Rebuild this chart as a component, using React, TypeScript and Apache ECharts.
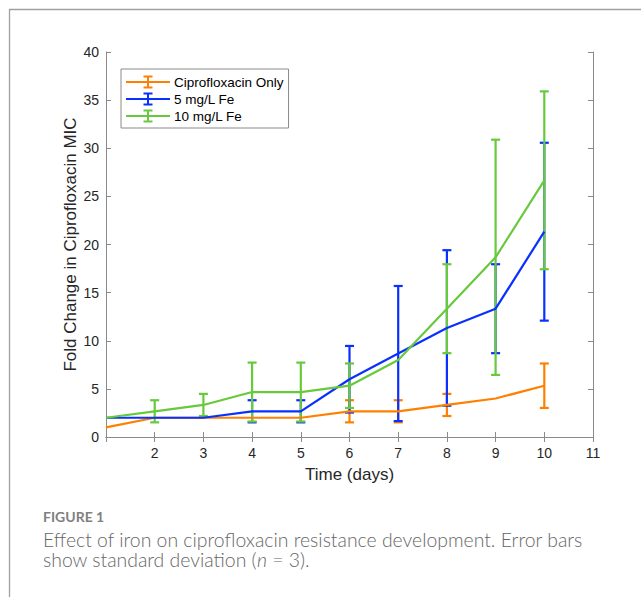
import React, { useEffect, useRef } from "react";
import * as echarts from "echarts";

const days = [1, 2, 3, 4, 5, 6, 7, 8, 9, 10];
const xTicks = [1, 2, 3, 4, 5, 6, 7, 8, 9, 10, 11];
const seriesNames = ["Ciprofloxacin Only", "5 mg/L Fe", "10 mg/L Fe"];
const ciproMean = [1, 2, 2, 2, 2, 2.67, 2.67, 3.33, 4, 5.33];
const ciproSD = [0, 0, 0, 0, 0, 1.15, 1.15, 1.15, 0, 2.31];
const fe5Mean = [2, 2, 2, 2.67, 2.67, 6, 8.67, 11.33, 13.33, 21.33];
const fe5SD = [0, 0, 0, 1.15, 1.15, 3.46, 7.02, 8.08, 4.62, 9.24];
const fe10Mean = [2, 2.67, 3.33, 4.67, 4.67, 5.33, 8, 13.33, 18.67, 26.67];
const fe10SD = [0, 1.15, 1.15, 3.06, 3.06, 2.31, 0, 4.62, 12.22, 9.24];
const colors = ["#ff8000", "#0a30ff", "#67c93c"];

const FONT = "'Liberation Sans', Arial, Helvetica, sans-serif";
const CAPTION_FONT = "Lato, 'Open Sans', sans-serif";
const AXIS_GRAY = "#8a8a8a";
const LEGEND_ICON =
  "path://M0,6h44v2h-44z M21,1h2v12h-2z M17.5,0.5h9v2h-9z M17.5,11.5h9v2h-9z";

function buildSeries(name: string, mean: number[], sd: number[], color: string) {
  const lineData = days.map((d, i) => [d, mean[i]]);
  const errData = days
    .map((d, i) => [d, mean[i] - sd[i], mean[i] + sd[i], sd[i]])
    .filter((r) => r[3] > 0);
  return [
    {
      name,
      type: "line",
      data: lineData,
      symbol: "none",
      lineStyle: { color, width: 2.2 },
      itemStyle: { color },
      xAxisIndex: 0,
      yAxisIndex: 0,
    },
    {
      name: name + " err",
      type: "custom",
      data: errData,
      encode: { x: 0, y: [1, 2] },
      xAxisIndex: 0,
      yAxisIndex: 0,
      renderItem: (params: any, api: any) => {
        const x = api.value(0);
        const lo = api.value(1);
        const hi = api.value(2);
        const pTop = api.coord([x, hi]);
        const pBot = api.coord([x, lo]);
        const hw = 4.5;
        const st = { stroke: color, lineWidth: 2.2 };
        return {
          type: "group",
          children: [
            { type: "line", shape: { x1: pTop[0], y1: pTop[1], x2: pBot[0], y2: pBot[1] }, style: st },
            { type: "line", shape: { x1: pTop[0] - hw, y1: pTop[1], x2: pTop[0] + hw, y2: pTop[1] }, style: st },
            { type: "line", shape: { x1: pBot[0] - hw, y1: pBot[1], x2: pBot[0] + hw, y2: pBot[1] }, style: st },
          ],
        };
      },
    },
  ];
}

export default function App() {
  const ref = useRef<HTMLDivElement>(null);
  useEffect(() => {
    if (!ref.current) return;
    const chart = echarts.init(ref.current, undefined, { renderer: "svg" });
    const axisCommon = {
      axisLine: { show: true, lineStyle: { color: AXIS_GRAY, width: 1 } },
      axisTick: { show: true, inside: true, length: 5, lineStyle: { color: AXIS_GRAY } },
      splitLine: { show: false },
    };
    chart.setOption({
      animation: false,
      backgroundColor: "#ffffff",
      grid: { left: 106, right: 48, top: 52, bottom: 160, containLabel: false },
      legend: {
        data: seriesNames,
        orient: "vertical",
        left: 121,
        top: 69,
        padding: [6, 5, 5, 5],
        itemGap: 3,
        itemWidth: 44,
        itemHeight: 14,
        icon: LEGEND_ICON,
        itemStyle: { borderWidth: 0 },
        borderColor: "#8a8a8a",
        borderWidth: 1,
        backgroundColor: "#ffffff",
        textStyle: { fontFamily: FONT, fontSize: 13.5, color: "#000000", padding: [0, 0, 0, -1] },
      },
      xAxis: [
        {
          type: "value",
          min: xTicks[0],
          max: xTicks[xTicks.length - 1],
          interval: 1,
          position: "bottom",
          name: "Time (days)",
          nameLocation: "middle",
          nameGap: 29,
          nameTextStyle: { fontFamily: FONT, fontSize: 17, color: "#262626" },
          axisLabel: {
            fontFamily: FONT,
            fontSize: 14,
            color: "#262626",
            margin: 9,
            formatter: (v: number) => (v === xTicks[0] ? "" : String(v)),
          },
          ...axisCommon,
        },
        {
          type: "value",
          min: xTicks[0],
          max: xTicks[xTicks.length - 1],
          interval: 1,
          position: "top",
          axisLabel: { show: false },
          ...axisCommon,
        },
      ],
      yAxis: [
        {
          type: "value",
          min: 0,
          max: 40,
          interval: 5,
          position: "left",
          name: "Fold Change in Ciprofloxacin MIC",
          nameLocation: "middle",
          nameGap: 27,
          nameMoveOverlap: false,
          nameTextStyle: { fontFamily: FONT, fontSize: 17, color: "#262626" },
          axisLabel: { fontFamily: FONT, fontSize: 14, color: "#262626", margin: 7 },
          ...axisCommon,
        },
        {
          type: "value",
          min: 0,
          max: 40,
          interval: 5,
          position: "right",
          axisLabel: { show: false },
          ...axisCommon,
        },
      ],
      series: [
        ...buildSeries(seriesNames[0], ciproMean, ciproSD, colors[0]),
        ...buildSeries(seriesNames[1], fe5Mean, fe5SD, colors[1]),
        ...buildSeries(seriesNames[2], fe10Mean, fe10SD, colors[2]),
      ],
      graphic: [
        {
          type: "polyline",
          shape: { points: [[9.5, 700], [9.5, 9.5], [700, 9.5]] },
          style: { stroke: "#a0a0a0", lineWidth: 1.3, fill: "none" },
          silent: true,
        },
        {
          type: "text",
          left: 43,
          top: 509,
          style: {
            text: "FIGURE 1",
            fontFamily: CAPTION_FONT,
            fontSize: 14,
            fontWeight: 700,
            fill: "#808080",
          },
        },
        {
          type: "text",
          left: 43,
          top: 529,
          style: {
            text:
              "Effect of iron on ciprofloxacin resistance development. Error bars\nshow standard deviation ({i|n} = 3).",
            fontFamily: CAPTION_FONT,
            fontSize: 19.4,
            fontWeight: 300,
            lineHeight: 20,
            fill: "#666666",
            rich: {
              i: {
                fontFamily: CAPTION_FONT,
                fontSize: 19.4,
                fontWeight: 300,
                fontStyle: "italic",
                lineHeight: 20,
                fill: "#666666",
              },
            },
          },
        },
      ],
    });
    return () => chart.dispose();
  }, []);
  return (
    <div
      ref={ref}
      style={{ position: "fixed", left: 0, top: 0, width: 641, height: 597 }}
    />
  );
}
